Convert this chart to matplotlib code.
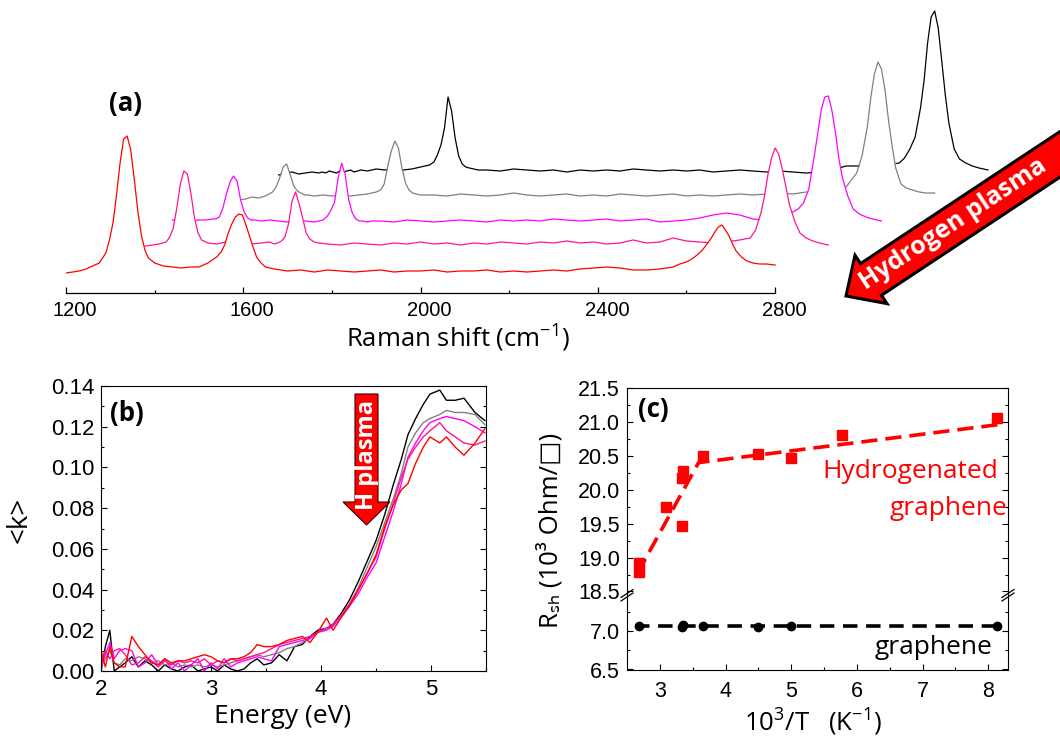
import numpy as np
import matplotlib.pyplot as plt
from matplotlib.patches import Polygon
from matplotlib.lines import Line2D
from matplotlib.transforms import ScaledTranslation
from matplotlib.ticker import MultipleLocator, FormatStrFormatter

plt.rcParams['font.family'] = ['Liberation Sans', 'DejaVu Sans']
plt.rcParams['mathtext.fontset'] = 'custom'
plt.rcParams['mathtext.rm'] = 'Open Sans'
plt.rcParams['mathtext.it'] = 'Open Sans:italic'
plt.rcParams['mathtext.bf'] = 'Open Sans:bold'
LABEL_FONT = ['Open Sans', 'DejaVu Sans']

# (a) Raman spectra, shared shift grid, intensity above each spectrum's own baseline (a.u.)
raman_shift = [1200, 1215, 1230, 1245, 1260, 1275, 1290,
               1298, 1306, 1314, 1322, 1330, 1338, 1346, 1354, 1362, 1370, 1378, 1386,
               1400, 1420, 1440, 1460, 1480, 1500, 1520, 1540,
               1550, 1558, 1566, 1574, 1582, 1590, 1598, 1606, 1614, 1622, 1630, 1640, 1650,
               1670, 1700, 1730, 1760, 1790, 1820, 1850, 1880, 1910, 1940, 1970, 2000, 2030,
               2060, 2090, 2120, 2150, 2180, 2210, 2240, 2270, 2300, 2330, 2360, 2390, 2420,
               2450, 2480, 2510, 2540, 2570,
               2585, 2600, 2612, 2624, 2636, 2648, 2656, 2664, 2672, 2680, 2688, 2696, 2704,
               2712, 2724, 2736, 2750, 2765, 2780, 2800]
raman_red = [0, 1, 2, 4, 7, 10, 20,
             33, 50, 78, 110, 134, 137, 123, 94, 62, 38, 23, 15,
             10, 7, 6, 5, 6, 6, 10, 16,
             21, 28, 40, 49, 56, 59, 58, 48, 37, 26, 16, 10, 6,
             4, 2, 3, 1, 3, 2, 1, 2, 3, 1, 2, 2, 3, 1, 2, 2, 3, 1, 2, 1, 2, 3, 2, 4, 5, 6,
             5, 3, 3, 4, 6,
             9, 11, 14, 18, 23, 30, 35, 41, 46, 48, 43, 37, 29, 22, 16, 12, 10, 9, 9, 8]
raman_pink = [0, 1, 0, -1, 0, 1, 2,
              3, 4, 9, 18, 38, 62, 75, 72, 52, 28, 13, 6,
              3, 2, 4, 1, 3, 2, 3, 4,
              2, 3, 5, 9, 22, 45, 54, 42, 28, 13, 7, 4, 3,
              2, 1, 3, 2, 1, 3, 2, 4, 2, 3, 1, 3, 2, 4, 3, 2, 4, 3, 5, 3, 4, 2, 3, 6, 3, 4,
              8, 5, 4, 3, 5,
              5, 6, 7, 8, 16, 33, 50, 72, 88, 98, 92, 77, 60, 42, 25, 13, 8, 5, 3, 1]
raman_magenta = [2, 1, 2, 1, 2, 2, 3,
                 3, 5, 14, 28, 40, 46, 41, 22, 10, 4, 2, 2,
                 1, 2, 1, 0, 1, 1, 0, 2,
                 6, 12, 20, 44, 59, 47, 22, 9, 3, 1, 1, 0, 1,
                 1, 0, 2, 1, 0, 1, 2, 1, 0, 2, 1, 2, 1, 3, 2, 1, 2, 3, 1, 2, 3, 0, 1, 2, 4, 7,
                 9, 7, 3, 2, 4,
                 6, 10, 13, 19, 33, 65, 88, 112, 125, 126, 112, 90, 63, 44, 26, 13, 8, 5, 3, 1]
raman_gray = [-2, -1, -3, -2, 0, -1, 1,
              3, 5, 10, 19, 30, 33, 22, 11, 6, 4, 2, 2,
              1, 2, 1, 2, 1, 2, 3, 5,
              7, 13, 31, 46, 56, 49, 29, 14, 7, 4, 3, 2, 2,
              2, 1, 3, 2, 1, 2, 4, 2, 1, 2, 3, 1, 2, 1, 3, 2, 1, 2, 3, 1, 2, 1, 2, 3, 2, 3,
              4, 3, 5, 4, 6,
              6, 10, 17, 24, 41, 70, 100, 123, 135, 128, 107, 76, 51, 29, 13, 9, 7, 5, 4, 4]
raman_black = [-2, 0, 1, -1, 0, 1, 0,
               1, 0, 2, 1, 0, 2, 1, 2, 3, 1, 2, 3,
               2, 4, 3, 5, 3, 4, 6, 8,
               11, 18, 28, 45, 76, 62, 35, 17, 9, 6, 5, 4, 3,
               3, 2, 4, 3, 2, 3, 1, 3, 2, 3, 2, 4, 3, 2, 3, 2, 3, 1, 2, 3, 2, 1, 2, 1, 0, 1,
               3, 7, 7, 8, 9,
               9, 10, 15, 24, 36, 65, 92, 130, 156, 162, 145, 112, 78, 50, 24, 14, 10, 7, 5, 3]
shift_offset = [0, 120, 240, 360, 480]     # waterfall offsets, red -> black
base_offset = [20, 47, 71, 96, 120]
raman_colors = ['#ff0000', '#ff1493', '#ff00ff', '#808080', '#000000']

# (b) extinction coefficient
energy = [2.00, 2.04, 2.08, 2.12, 2.17, 2.22, 2.28, 2.34, 2.40, 2.46,
          2.52, 2.58, 2.64, 2.70, 2.76, 2.82, 2.88, 2.94, 3.00, 3.06,
          3.12, 3.18, 3.24, 3.30, 3.36, 3.42, 3.48, 3.55, 3.62, 3.69,
          3.76, 3.83, 3.90, 3.97, 4.05, 4.11, 4.18, 4.26, 4.34, 4.42,
          4.50, 4.58, 4.66, 4.73, 4.79, 4.86, 4.93, 4.99, 5.08, 5.14,
          5.22, 5.30, 5.40, 5.49]
k_black = [0.000, 0.012, 0.020, 0.000, 0.002, 0.004, 0.007, 0.002, 0.005, 0.003,
           0.000, 0.003, 0.001, 0.000, 0.002, 0.003, 0.000, 0.001, 0.002, 0.000,
           0.003, 0.001, 0.000, 0.001, 0.004, 0.006, 0.003, 0.004, 0.008, 0.005,
           0.012, 0.013, 0.017, 0.020, 0.021, 0.023, 0.028, 0.035, 0.044, 0.054,
           0.064, 0.077, 0.092, 0.104, 0.116, 0.124, 0.131, 0.136, 0.138, 0.133,
           0.133, 0.134, 0.127, 0.123]
k_gray = [0.002, 0.006, 0.010, 0.004, 0.003, 0.006, 0.005, 0.007, 0.006, 0.004,
          0.005, 0.003, 0.004, 0.002, 0.003, 0.002, 0.003, 0.002, 0.003, 0.002,
          0.003, 0.004, 0.005, 0.006, 0.007, 0.008, 0.007, 0.008, 0.009, 0.011,
          0.012, 0.014, 0.016, 0.019, 0.021, 0.022, 0.027, 0.033, 0.041, 0.051,
          0.061, 0.073, 0.085, 0.097, 0.110, 0.117, 0.122, 0.124, 0.126, 0.128,
          0.127, 0.127, 0.126, 0.121]
k_magenta = [0.002, 0.008, 0.014, 0.006, 0.010, 0.011, 0.010, 0.002, 0.004, 0.008,
             0.003, 0.006, 0.001, 0.004, 0.000, 0.003, 0.006, 0.000, 0.004, 0.001,
             0.006, 0.002, 0.004, 0.005, 0.006, 0.007, 0.006, 0.005, 0.012, 0.013,
             0.014, 0.015, 0.016, 0.019, 0.020, 0.022, 0.027, 0.032, 0.038, 0.046,
             0.053, 0.066, 0.079, 0.092, 0.105, 0.112, 0.118, 0.122, 0.124, 0.125,
             0.124, 0.123, 0.120, 0.117]
k_pink = [0.004, 0.010, 0.006, 0.010, 0.011, 0.008, 0.003, 0.004, 0.007, 0.005,
          0.002, 0.005, 0.003, 0.005, 0.004, 0.005, 0.004, 0.006, 0.003, 0.005,
          0.004, 0.006, 0.005, 0.006, 0.007, 0.008, 0.009, 0.011, 0.013, 0.014,
          0.015, 0.016, 0.017, 0.019, 0.021, 0.023, 0.027, 0.033, 0.040, 0.048,
          0.056, 0.070, 0.083, 0.095, 0.104, 0.110, 0.115, 0.118, 0.122, 0.118,
          0.115, 0.112, 0.111, 0.113]
k_red = [0.010, 0.002, 0.012, 0.004, 0.002, 0.002, 0.017, 0.012, 0.008, 0.004,
         0.003, 0.006, 0.004, 0.005, 0.005, 0.006, 0.007, 0.008, 0.007, 0.005,
         0.004, 0.006, 0.006, 0.007, 0.009, 0.013, 0.012, 0.012, 0.013, 0.015,
         0.016, 0.017, 0.014, 0.019, 0.026, 0.020, 0.026, 0.032, 0.040, 0.048,
         0.057, 0.071, 0.082, 0.089, 0.092, 0.102, 0.110, 0.115, 0.112, 0.115,
         0.110, 0.106, 0.112, 0.119]

# (c) sheet resistance vs inverse temperature
invT_hyd = [2.68, 2.69, 3.10, 3.34, 3.34, 3.35, 3.66, 4.49, 4.99, 5.78, 8.13]
rsh_hyd = [18.79, 18.92, 19.74, 19.47, 20.18, 20.27, 20.50, 20.53, 20.47, 20.80, 21.06]
fit_hyd_x = [2.66, 3.59, 8.15]
fit_hyd_y = [18.77, 20.40, 20.96]
invT_gr = [2.68, 3.33, 3.35, 3.66, 4.49, 4.99, 8.13]
rsh_gr = [7.06, 7.05, 7.08, 7.06, 7.05, 7.07, 7.07]
fit_gr_x = [2.62, 8.22]
fit_gr_y = [7.065, 7.065]

W, H = 1060, 745
fig = plt.figure(figsize=(W / 100, H / 100), dpi=100)


def box(left, top, right, bottom):
    return fig.add_axes([left / W, 1 - bottom / H, (right - left) / W, (bottom - top) / H])


def label(x, y, s, **kw):
    kw.setdefault('family', LABEL_FONT)
    fig.text(x / W, 1 - y / H, s, **kw)


def to_fig(pts):
    pts = np.asarray(pts, float)
    return np.column_stack([pts[:, 0] / W, 1 - pts[:, 1] / H])


def arrow_shape(tip, angle, head_len, head_half, shaft_half, length):
    # pixel space (y down), arrow points along angle
    d = np.array([np.cos(np.radians(angle)), np.sin(np.radians(angle))])
    n = np.array([-d[1], d[0]])
    tip = np.array(tip, float)
    base = tip - head_len * d
    tail = tip - length * d
    return [tip, base + head_half * n, base + shaft_half * n, tail + shaft_half * n,
            tail - shaft_half * n, base - shaft_half * n, base - head_half * n]


# ---------------- (a) ----------------
ax = box(66, 0, W, 293)
ax.set_xlim(1200, 1200 + (W - 66) / 0.4432)
ax.set_ylim(0, 293)
shift = np.array(raman_shift)
spectra = [raman_red, raman_pink, raman_magenta, raman_gray, raman_black]
for k in reversed(range(5)):
    x = shift + shift_offset[k]
    y = base_offset[k] + np.array(spectra[k])
    z = 1 + (4 - k) * 0.2
    ax.fill_between(x, 0, y, color='white', lw=0, zorder=z)
    ax.plot(x, y, color=raman_colors[k], lw=0.9, zorder=z + 0.1)
for s in ['left', 'right', 'top']:
    ax.spines[s].set_visible(False)
ax.spines['bottom'].set_bounds(1200, 2800)
ax.spines['bottom'].set_linewidth(0.9)
ax.set_axisbelow(False)
ax.set_yticks([])
ax.set_xticks([1200, 1600, 2000, 2400, 2800])
ax.set_xticks([1400, 1800, 2200, 2600], minor=True)
ax.tick_params(axis='x', which='both', direction='in', labelsize=14.5, pad=6, width=0.9)
ax.tick_params(axis='x', which='major', length=4)
ax.tick_params(axis='x', which='minor', length=2.5)
for lab in ax.get_xticklabels():
    lab.set_transform(lab.get_transform() + ScaledTranslation(0.09, 0, fig.dpi_scale_trans))
ax.patch.set_visible(False)

label(458, 347, 'Raman shift (cm$^{-1}$)', fontsize=18.5, ha='center', va='baseline')
label(125, 103, '(a)', fontsize=18.5, fontweight='bold', ha='center', va='center')

arr = arrow_shape((846, 296), 146.5, 30, 29, 19, 280)
fig.add_artist(Polygon(to_fig(arr), closed=True, facecolor='#ff0000', edgecolor='black',
                       lw=2.2, transform=fig.transFigure, zorder=5))
label(953, 224, 'Hydrogen plasma', fontsize=18, fontweight='bold', color='white',
      rotation=33.5, ha='center', va='center', rotation_mode='anchor', zorder=6)


def box_ticks(a, fs, xpad, ypad):
    a.tick_params(which='both', direction='in', right=True, top=False, labelsize=fs, width=0.8)
    a.tick_params(which='major', length=4.3)
    a.tick_params(which='minor', length=2.5)
    a.tick_params(axis='x', pad=xpad)
    a.tick_params(axis='y', pad=ypad)
    for s in a.spines.values():
        s.set_linewidth(0.8)


# ---------------- (b) ----------------
axb = box(101, 386, 486, 671)
for kk, col in [(k_black, '#000000'), (k_gray, '#808080'), (k_magenta, '#ff00ff'),
                (k_pink, '#ff1493'), (k_red, '#ff0000')]:
    axb.plot(energy, kk, color=col, lw=1.0, clip_on=True)
axb.set_xlim(2, 5.5)
axb.set_ylim(0, 0.14)
axb.xaxis.set_major_locator(MultipleLocator(1))
axb.xaxis.set_minor_locator(MultipleLocator(0.5))
axb.yaxis.set_major_locator(MultipleLocator(0.02))
axb.yaxis.set_minor_locator(MultipleLocator(0.01))
axb.yaxis.set_major_formatter(FormatStrFormatter('%.2f'))
box_ticks(axb, 16, 6, 4.5)

label(283, 723, 'Energy (eV)', fontsize=19, ha='center', va='baseline')
label(20, 520, '<k>', fontsize=20, ha='center', va='center', rotation=90)
label(127, 413, '(b)', fontsize=18.5, fontweight='bold', ha='center', va='center')

arr_b = arrow_shape((366.5, 525), 90, 23, 23.5, 11.5, 131)
fig.add_artist(Polygon(to_fig(arr_b), closed=True, facecolor='#ff0000', edgecolor='#400000',
                       lw=0.8, transform=fig.transFigure, zorder=5))
label(367, 455, 'H plasma', fontsize=17, fontweight='bold', color='white', rotation=90,
      ha='center', va='center', zorder=6)

# ---------------- (c) ----------------
axt = box(627, 388, 1008, 595)
axl = box(627, 596.5, 1008, 669.5)
axt.plot(fit_hyd_x, fit_hyd_y, color='#ff0000', lw=2.6, dashes=(4.5, 2.2))
axt.plot(invT_hyd, rsh_hyd, 's', color='#ff0000', ms=6.5, mec='#ff0000')
axl.plot(fit_gr_x, fit_gr_y, color='black', lw=2.6, dashes=(4.0, 2.4))
axl.plot(invT_gr, rsh_gr, 'o', color='black', ms=6)
for a in (axt, axl):
    a.set_xlim(2.5, 8.3)
    a.xaxis.set_major_locator(MultipleLocator(1))
    a.xaxis.set_minor_locator(MultipleLocator(0.5))
    a.yaxis.set_major_formatter(FormatStrFormatter('%.1f'))
    box_ticks(a, 15.5, 8.5, 5)
axt.set_ylim(18.448, 21.5)
axt.yaxis.set_major_locator(MultipleLocator(0.5))
axt.yaxis.set_minor_locator(MultipleLocator(0.25))
axt.spines['bottom'].set_visible(False)
axt.tick_params(axis='x', which='both', bottom=False, labelbottom=False)
axl.set_ylim(6.5, 7.448)
axl.set_yticks([6.5, 7.0])
axl.set_yticks([6.75, 7.25], minor=True)
axl.spines['top'].set_visible(False)

for bx in (627, 1008):
    for off in (0, 3.5):
        fig.add_artist(Line2D([(bx - 6) / W, (bx + 6) / W],
                              [1 - (597.5 + off) / H, 1 - (589.5 + off) / H],
                              color='black', lw=0.9, transform=fig.transFigure))

label(550, 530, 'R\u209b\u2095 (10\u00b3 Ohm/\u25a1)', fontsize=18.5, ha='center', va='center',
      rotation=90)
label(813, 731, '10$^{3}$/T   (K$^{-1}$)', fontsize=18.5, ha='center', va='baseline')
label(653, 410, '(c)', fontsize=18.5, fontweight='bold', ha='center', va='center')
label(822, 478, 'Hydrogenated', fontsize=19, color='#ff0000', ha='left', va='baseline')
label(890, 515, 'graphene', fontsize=19, color='#ff0000', ha='left', va='baseline')
label(875, 654, 'graphene', fontsize=19, color='black', ha='left', va='baseline')

fig.savefig('out.png', dpi=100)
